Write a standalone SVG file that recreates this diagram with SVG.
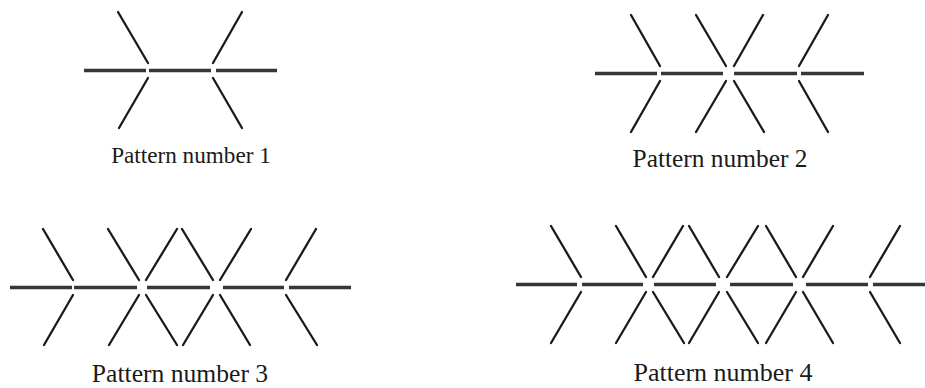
<svg xmlns="http://www.w3.org/2000/svg" width="925" height="388" viewBox="0 0 925 388">
<style>
.h{stroke:#363636;stroke-width:3.4;fill:none}
.d{stroke:#1a1a1a;stroke-width:2.3;fill:none;stroke-linecap:round}
.t{font-family:"Liberation Serif","Times New Roman",serif;fill:#1a1a1a;text-anchor:middle}
</style>
<rect width="925" height="388" fill="#ffffff"/>
<g id="pattern1">
<g id="p1-connectors">
<line class="h" x1="84" y1="70.5" x2="146" y2="70.5"/>
<line class="h" x1="149" y1="70.5" x2="211" y2="70.5"/>
<line class="h" x1="216" y1="70.5" x2="277" y2="70.5"/>
<line class="d" x1="118" y1="12" x2="148" y2="63"/>
<line class="d" x1="148" y1="78" x2="119" y2="128"/>
<line class="d" x1="242" y1="12" x2="213" y2="63"/>
<line class="d" x1="213" y1="78" x2="242" y2="128"/>
</g>
<text class="t" x="191" y="163" font-size="23.2">Pattern number 1</text>
</g>
<g id="pattern2">
<g id="p2-connectors">
<line class="h" x1="595" y1="73.5" x2="657" y2="73.5"/>
<line class="h" x1="661" y1="73.5" x2="723" y2="73.5"/>
<line class="h" x1="734" y1="73.5" x2="797" y2="73.5"/>
<line class="h" x1="801" y1="73.5" x2="864" y2="73.5"/>
<line class="d" x1="631" y1="15" x2="660" y2="66"/>
<line class="d" x1="660" y1="81" x2="631" y2="132"/>
<line class="d" x1="696" y1="15" x2="726" y2="66"/>
<line class="d" x1="763" y1="15" x2="734" y2="66"/>
<line class="d" x1="726" y1="81" x2="696" y2="132"/>
<line class="d" x1="734" y1="81" x2="764" y2="132"/>
<line class="d" x1="828" y1="15" x2="799" y2="66"/>
<line class="d" x1="799" y1="81" x2="828" y2="132"/>
</g>
<text class="t" x="720" y="167" font-size="25.4">Pattern number 2</text>
</g>
<g id="pattern3">
<g id="p3-connectors">
<line class="h" x1="10" y1="287.5" x2="72" y2="287.5"/>
<line class="h" x1="74" y1="287.5" x2="137" y2="287.5"/>
<line class="h" x1="147" y1="287.5" x2="210" y2="287.5"/>
<line class="h" x1="223" y1="287.5" x2="284" y2="287.5"/>
<line class="h" x1="289" y1="287.5" x2="351" y2="287.5"/>
<line class="d" x1="43" y1="229" x2="73" y2="280"/>
<line class="d" x1="73" y1="295" x2="44" y2="345"/>
<line class="d" x1="108" y1="229" x2="139" y2="280"/>
<line class="d" x1="177" y1="229" x2="146" y2="280"/>
<line class="d" x1="139" y1="295" x2="109" y2="345"/>
<line class="d" x1="146" y1="295" x2="177" y2="345"/>
<line class="d" x1="182" y1="229" x2="213" y2="280"/>
<line class="d" x1="251" y1="229" x2="220" y2="280"/>
<line class="d" x1="213" y1="295" x2="183" y2="345"/>
<line class="d" x1="220" y1="295" x2="250" y2="345"/>
<line class="d" x1="316" y1="229" x2="286" y2="280"/>
<line class="d" x1="286" y1="295" x2="317" y2="345"/>
</g>
<text class="t" x="180" y="382" font-size="25.6">Pattern number 3</text>
</g>
<g id="pattern4">
<g id="p4-connectors">
<line class="h" x1="516" y1="284.5" x2="577" y2="284.5"/>
<line class="h" x1="582" y1="284.5" x2="643" y2="284.5"/>
<line class="h" x1="654" y1="284.5" x2="716" y2="284.5"/>
<line class="h" x1="730" y1="284.5" x2="793" y2="284.5"/>
<line class="h" x1="806" y1="284.5" x2="868" y2="284.5"/>
<line class="h" x1="873" y1="284.5" x2="925" y2="284.5"/>
<line class="d" x1="551" y1="226" x2="581" y2="277"/>
<line class="d" x1="581" y1="292" x2="551" y2="343"/>
<line class="d" x1="616" y1="226" x2="646" y2="277"/>
<line class="d" x1="683" y1="226" x2="653" y2="277"/>
<line class="d" x1="646" y1="292" x2="616" y2="343"/>
<line class="d" x1="653" y1="292" x2="684" y2="343"/>
<line class="d" x1="689" y1="226" x2="719" y2="277"/>
<line class="d" x1="758" y1="226" x2="727" y2="277"/>
<line class="d" x1="719" y1="292" x2="689" y2="343"/>
<line class="d" x1="727" y1="292" x2="758" y2="343"/>
<line class="d" x1="766" y1="226" x2="796" y2="277"/>
<line class="d" x1="833" y1="226" x2="803" y2="277"/>
<line class="d" x1="796" y1="292" x2="766" y2="343"/>
<line class="d" x1="803" y1="292" x2="833" y2="343"/>
<line class="d" x1="900" y1="226" x2="870" y2="277"/>
<line class="d" x1="870" y1="292" x2="900" y2="343"/>
</g>
<text class="t" x="723" y="381" font-size="26">Pattern number 4</text>
</g>
</svg>
